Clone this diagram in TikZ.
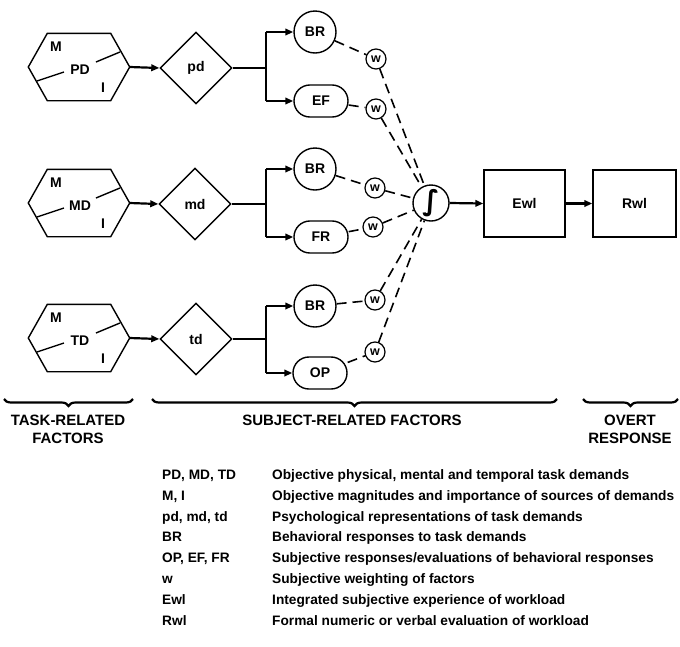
\documentclass[tikz,border=0pt]{standalone}
\usepackage{fontspec}
\setmainfont{Liberation Sans}
\newfontfamily\symfont{DejaVu Sans}
\usetikzlibrary{arrows.meta,shapes.geometric,decorations.pathreplacing,calc}
\begin{document}
\begin{tikzpicture}[x=1pt,y=-1pt,
  font=\fontsize{14}{16}\selectfont\bfseries,
  thin/.style={line width=1.4pt},
  hexbox/.style={minimum width=101pt,minimum height=67pt,inner sep=0pt},
  dia/.style={draw,diamond,line width=1.4pt,minimum width=72pt,minimum height=72pt,inner sep=0pt},
  brc/.style={draw,circle,minimum size=42pt,inner sep=0pt,line width=1.4pt},
  rnd/.style={draw,rounded corners=15.9pt,minimum width=54pt,minimum height=32pt,inner sep=0pt,line width=1.4pt},
  wc/.style={draw,circle,minimum size=20pt,inner sep=0pt,line width=1.2pt,font=\fontsize{12.5}{12.5}\selectfont\bfseries},
  sq/.style={draw,line width=1.4pt,minimum height=67pt,inner sep=0pt},
  dsh/.style={line width=1.6pt,dash pattern=on 10pt off 6pt},
  arr/.style={line width=2.2pt,-{Triangle[length=8pt,width=6.5pt]}},
  bus/.style={line width=2.2pt},
  brc2/.style={line width=2.2pt,decorate,decoration={brace,amplitude=7pt,mirror}},
  head/.style={font=\fontsize{15}{18}\selectfont\bfseries,align=center},
  key/.style={anchor=base west,inner sep=0pt,font=\fontsize{13.7}{15}\selectfont\bfseries}
]
\useasboundingbox (0,0) rectangle (680,646);

% ---------- hexagons ----------
\foreach \n/\y/\lab in {h1/67/PD,h2/203/MD,h3/338/TD}{
  \node[hexbox] (\n) at (79,\y) {};
  \draw[thin] (\n.west) -- ($(\n.north west)+(19,0)$) -- ($(\n.north east)+(-19,0)$)
    -- (\n.east) -- ($(\n.south east)+(-19,0)$) -- ($(\n.south west)+(19,0)$) -- cycle;
  \node (\n lab) at ($(\n)+(1,3)$) {\lab};
  \node (\n m) at ($(\n)+(-23,-20)$) {M};
  \node (\n i) at ($(\n)+(24,21)$) {I};
  \draw[thin] ($(\n)+(-42,14)$) -- ($(\n)+(-15,5)$);
  \draw[thin] ($(\n)+(17,-5)$) -- ($(\n)+(41,-15)$);
}

% ---------- diamonds ----------
\node[dia] (d1) at (196,68) {pd};
\node[dia] (d2) at (195,204) {md};
\node[dia] (d3) at (196,339) {td};
\draw[arr] (h1.east) -- (d1.west);
\draw[arr] (h2.east) -- (d2.west);
\draw[arr] (h3.east) -- (d3.west);

% ---------- response nodes ----------
\node[brc] (b1) at (315,32) {BR};
\node[rnd] (e1) at (321,101) {EF};
\node[brc] (b2) at (315,169) {BR};
\node[rnd] (e2) at (321,237) {FR};
\node[brc] (b3) at (315,306) {BR};
\node[rnd] (e3) at (320,373) {OP};

% bus lines
\foreach \d/\b/\e/\y in {d1/b1/e1/68,d2/b2/e2/204,d3/b3/e3/339}{
  \coordinate (\d j) at (266,\y);
  \coordinate (\d t) at (266,0 |- \b);
  \coordinate (\d b) at (266,0 |- \e);
  \draw[bus] (\d.east) -- (\d j);
  \draw[bus] (\d t |- \b) -- (\d b |- \e);
  \draw[arr] (\d t |- \b) -- (\b.west);
  \draw[arr] (\d b |- \e) -- (\e.west);
}

% ---------- weights ----------
\node[wc] (w1) at (376,59) {w};
\node[wc] (w2) at (376,109) {w};
\node[wc] (w3) at (375,188) {w};
\node[wc] (w4) at (373,227) {w};
\node[wc] (w5) at (375,300) {w};
\node[wc] (w6) at (375,352) {w};

% ---------- integrator ----------
\node[draw,circle,minimum size=36pt,inner sep=0pt,line width=1.4pt] (int) at (431,203) {};
\node[inner sep=0pt,font=\symfont\bfseries\fontsize{28}{28}\selectfont] (intsym) at (int.center) {∫};

\draw[dsh] (b1) -- (w1);
\draw[dsh] (e1) -- (w2);
\draw[dsh] (b2) -- (w3);
\draw[dsh] (e2) -- (w4);
\draw[dsh] (b3) -- (w5);
\draw[dsh] (e3) -- (w6);
\foreach \w in {w1,w2,w3,w4,w5,w6}{\draw[dsh] (\w) -- (int);}

% ---------- outputs ----------
\node[sq,minimum width=81pt] (ewl) at (524.5,203.5) {Ewl};
\node[sq,minimum width=83pt] (rwl) at (634.5,203.5) {Rwl};
\draw[arr] (int.east) -- (ewl.west);
\draw[arr] (ewl.east) -- (rwl.west);

% ---------- braces ----------
\draw[brc2] (4,399) -- (133,399);
\draw[brc2] (152,399) -- (557,399);
\draw[brc2] (583,399) -- (678,399);
\node[head] (t1) at (68,429) {TASK-RELATED\\FACTORS};
\node[head] (t2) at (352,420) {SUBJECT-RELATED FACTORS};
\node[head] (t3) at (630,429) {OVERT\\RESPONSE};

% ---------- legend ----------
\foreach \k/\dsc/\y [count=\i] in {
  {PD, MD, TD}/{Objective physical, mental and temporal task demands}/479,
  {M, I}/{Objective magnitudes and importance of sources of demands}/500,
  {pd, md, td}/{Psychological representations of task demands}/521,
  {BR}/{Behavioral responses to task demands}/541,
  {OP, EF, FR}/{Subjective responses/evaluations of behavioral responses}/562,
  {w}/{Subjective weighting of factors}/583,
  {Ewl}/{Integrated subjective experience of workload}/604,
  {Rwl}/{Formal numeric or verbal evaluation of workload}/625}{
  \node[key] (k\i) at (162,\y) {\k};
  \node[key] (l\i) at (272,\y) {\dsc};
}
\end{tikzpicture}
\end{document}
